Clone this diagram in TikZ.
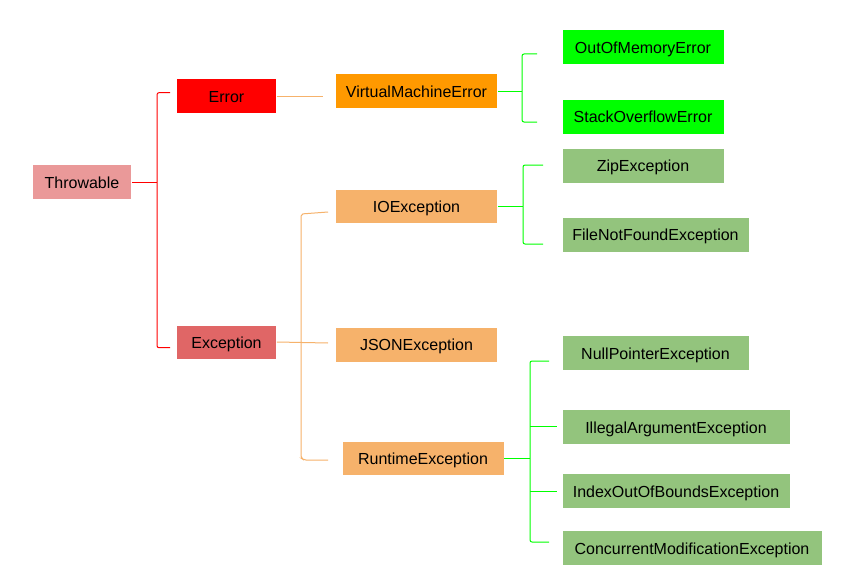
\documentclass[tikz,border=0pt]{standalone}
\usepackage{fontspec}
\setmainfont{Liberation Sans}
\definecolor{cThrow}{HTML}{EA9999}
\definecolor{cErr}{HTML}{FF0000}
\definecolor{cExc}{HTML}{E06666}
\definecolor{cVme}{HTML}{FF9900}
\definecolor{cOrg}{HTML}{F6B26B}
\definecolor{cLime}{HTML}{00FF00}
\definecolor{cLeaf}{HTML}{93C47D}
\tikzset{
  box/.style={minimum height=35pt, inner sep=0pt, font=\fontsize{16}{18}\selectfont, text=black, draw=white, line width=0.6pt, text depth=0.5pt, text height=13pt},
  redline/.style={draw=cErr, line width=1pt, rounded corners=2pt},
  orgline/.style={draw=cOrg, line width=1pt, rounded corners=2pt},
  grnline/.style={draw=cLime, line width=1pt, rounded corners=2pt},
}
\begin{document}
\begin{tikzpicture}[x=1pt,y=-1pt]
\useasboundingbox[fill=white] (0,0) rectangle (851,586);
% nodes
\node[box, fill=cThrow, minimum width=99pt] (thr) at (82,182) {Throwable};
\node[box, fill=cErr, minimum width=100pt] (err) at (226.5,96) {Error};
\node[box, fill=cExc, minimum width=100pt, minimum height=34pt] (exc) at (226.5,342) {Exception};
\node[box, fill=cVme, minimum width=162pt] (vme) at (416.5,91) {VirtualMachineError};
\node[box, fill=cOrg, minimum width=162pt, minimum height=34pt] (ioe) at (416.5,206) {IOException};
\node[box, fill=cOrg, minimum width=162pt] (json) at (416.5,344.5) {JSONException};
\node[box, fill=cOrg, minimum width=162pt, minimum height=34pt] (rte) at (423,458.5) {RuntimeException};
\node[box, fill=cLime, minimum width=162pt] (oom) at (643,47) {OutOfMemoryError};
\node[box, fill=cLime, minimum width=162pt] (soe) at (643,116.5) {StackOverflowError};
\node[box, fill=cLeaf, minimum width=162pt] (zip) at (643,165.5) {ZipException};
\node[box, fill=cLeaf, minimum width=187pt] (fnf) at (655.5,234.5) {FileNotFoundException};
\node[box, fill=cLeaf, minimum width=187pt] (npe) at (655.5,353) {NullPointerException};
\node[box, fill=cLeaf, minimum width=228pt] (iae) at (676,427) {IllegalArgumentException};
\node[box, fill=cLeaf, minimum width=228pt] (ioob) at (676,491) {IndexOutOfBoundsException};
\node[box, fill=cLeaf, minimum width=260pt] (cme) at (692,548) {ConcurrentModificationException};
% stub end coordinates
\coordinate (s-err) at (170,92.7);
\coordinate (s-exc) at (170,347.7);
\coordinate (s-vme) at (323,96);
\coordinate (s-ioe) at (328,212);
\coordinate (s-json) at (328,343);
\coordinate (s-rte) at (328,460);
\coordinate (s-oom) at (537,54);
\coordinate (s-soe) at (537,122);
\coordinate (s-zip) at (543,165);
\coordinate (s-fnf) at (543,244);
\coordinate (s-npe) at (549,361);
\coordinate (s-iae) at (557,426);
\coordinate (s-ioob) at (557,491);
\coordinate (s-cme) at (549,542);
% connectors
\draw[redline] (thr.east) -- (thr.east -| 157,0);
\draw[redline] (s-err) -| (157,182) |- (s-exc);
\draw[orgline] (err.east) -- (s-vme);
\draw[orgline] (exc.east) -- (s-json);
\draw[orgline] (s-ioe) -- (301,214) -- (301,458) -- (304,460) -- (s-rte);
\draw[grnline] (vme.east) -- (vme.east -| 522,0);
\draw[grnline] (s-oom) -| (522,88) |- (s-soe);
\draw[grnline] (ioe.east) -- (ioe.east -| 523,0);
\draw[grnline] (s-zip) -| (523,208) |- (s-fnf);
\draw[grnline] (rte.east) -- (rte.east -| 530,0);
\draw[grnline] (s-npe) -| (530,459) |- (s-cme);
\draw[grnline] (530,426) -- (s-iae);
\draw[grnline] (530,491) -- (s-ioob);
\end{tikzpicture}
\end{document}
